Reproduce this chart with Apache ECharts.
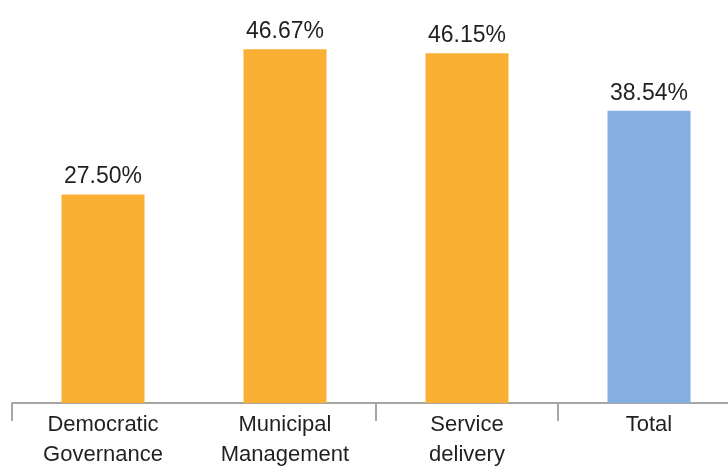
<!DOCTYPE html>
<html>
<head>
<meta charset="utf-8">
<script src="https://cdn.jsdelivr.net/npm/echarts@6/dist/echarts.min.js"></script>
<style>
  html, body { margin: 0; padding: 0; background: #fff; }
  #chart { width: 728px; height: 467px; }
</style>
</head>
<body>
<div id="chart"></div>
<script>
// ── Data ───────────────────────────────────────────────
const categories = ['Democratic Governance', 'Municipal Management', 'Service delivery', 'Total'];
const values     = [27.50, 46.67, 46.15, 38.54];
const barColors  = ['#FBB034', '#FBB034', '#FBB034', '#86AFE1'];

// ── Style ──────────────────────────────────────────────
const FONT      = "'Liberation Sans', Arial, sans-serif";
const TEXT_COL  = '#231F20';
const AXIS_COL  = '#A6A6A6';

const chart = echarts.init(document.getElementById('chart'));

chart.setOption({
  backgroundColor: '#FFFFFF',
  animation: false,
  grid: { left: 12, top: 24, width: 728, height: 379, containLabel: false, outerBoundsMode: 'none' },
  xAxis: {
    type: 'category',
    data: categories,
    axisLine: { lineStyle: { color: AXIS_COL, width: 2 } },
    axisTick: {
      show: true,
      length: 18,
      lineStyle: { color: AXIS_COL, width: 2 },
      interval: (index) => index !== 1
    },
    axisLabel: {
      interval: 0,
      margin: 7,
      fontFamily: FONT,
      fontSize: 22,
      lineHeight: 30,
      color: TEXT_COL,
      formatter: v => v.replace(' ', '\n')
    }
  },
  yAxis: {
    type: 'value',
    min: 0,
    max: 50,
    show: false,
    splitLine: { show: false }
  },
  series: [{
    type: 'bar',
    barWidth: 83,
    data: values.map((v, i) => ({ value: v, itemStyle: { color: barColors[i] } })),
    label: {
      show: true,
      position: 'top',
      distance: 6,
      fontFamily: FONT,
      fontSize: 23,
      color: TEXT_COL,
      formatter: p => p.value.toFixed(2) + '%'
    }
  }]
});
</script>
</body>
</html>
